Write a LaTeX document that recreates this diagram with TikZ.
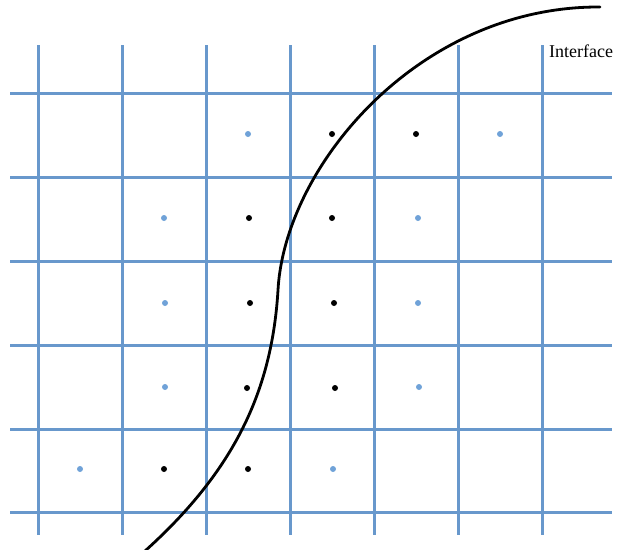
\documentclass[tikz,border=0pt]{standalone}
\usepackage{fontspec}
\setmainfont{Liberation Serif}
\definecolor{gridblue}{RGB}{104,152,204}
\definecolor{dotblue}{RGB}{112,162,216}
\tikzset{
  gridline/.style={draw=gridblue, line width=3pt},
  bluedot/.style={circle, fill=dotblue, inner sep=0pt, minimum size=6pt},
  blackdot/.style={circle, fill=black, inner sep=0pt, minimum size=6pt},
  iface/.style={draw=black, line width=2.8pt, line cap=round},
  lbl/.style={font=\fontsize{18}{20}\selectfont, inner sep=0pt, anchor=base west}
}
\begin{document}
\begin{tikzpicture}[x=1pt,y=-1pt]
\useasboundingbox (0,0) rectangle (621,549);
% grid
\foreach \x [count=\i] in {38,122,206,290,374,458,542}{
  \coordinate (vt\i) at (\x,45);
  \coordinate (vb\i) at (\x,535);
  \draw[gridline] (vt\i) -- (vb\i);
}
\foreach \y [count=\j] in {93,177,261,345,429,512}{
  \coordinate (hl\j) at (10,\y);
  \coordinate (hr\j) at (612,\y);
  \draw[gridline] (hl\j) -- (hr\j);
}
% dots
\node[bluedot]  (d11) at (248,134) {};
\node[blackdot] (d12) at (332,134) {};
\node[blackdot] (d13) at (416,134) {};
\node[bluedot]  (d14) at (500,134) {};
\node[bluedot]  (d21) at (164,218) {};
\node[blackdot] (d22) at (249,218) {};
\node[blackdot] (d23) at (332,218) {};
\node[bluedot]  (d24) at (418,218) {};
\node[bluedot]  (d31) at (165,303) {};
\node[blackdot] (d32) at (250,303) {};
\node[blackdot] (d33) at (334,303) {};
\node[bluedot]  (d34) at (418,303) {};
\node[bluedot]  (d41) at (165,387) {};
\node[blackdot] (d42) at (247,388) {};
\node[blackdot] (d43) at (335,388) {};
\node[bluedot]  (d44) at (419,387) {};
\node[bluedot]  (d51) at (80,469) {};
\node[blackdot] (d52) at (164,469) {};
\node[blackdot] (d53) at (248,469) {};
\node[bluedot]  (d54) at (333,469) {};
% interface curve
\coordinate (cstart) at (145,551);
\coordinate (cmid) at (278,290);
\coordinate (cend) at (600,7);
\draw[iface] (cstart) .. controls (235,470) and (272,390) .. (cmid)
  .. controls (285,165) and (420,6) .. (cend);
\node[lbl] (lab) at (549,57) {Interface};
\end{tikzpicture}
\end{document}
